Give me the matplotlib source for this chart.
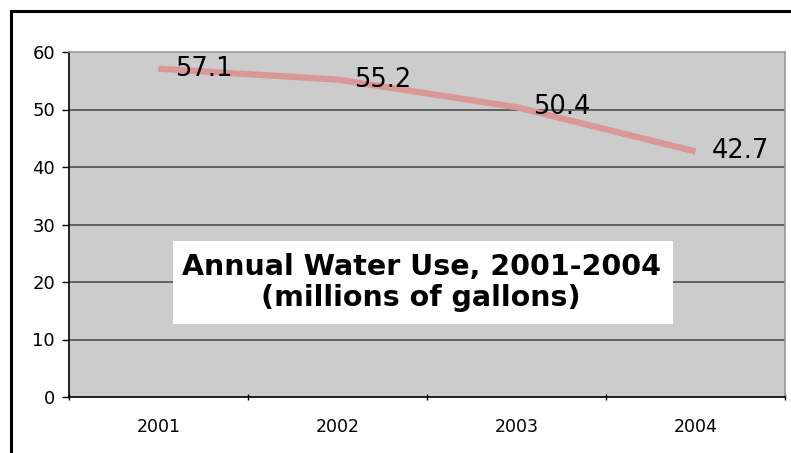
import matplotlib
matplotlib.use('Agg')
import matplotlib.pyplot as plt
from matplotlib.patches import Rectangle

years = ['2001', '2002', '2003', '2004']
water_use = [57.1, 55.2, 50.4, 42.7]
y_ticks = [0, 10, 20, 30, 40, 50, 60]

fig = plt.figure(figsize=(7.91, 4.53), dpi=100)
fig.patch.set_facecolor('white')

# outer chart frame (runs off the right and bottom edge like the original)
fig.patches.append(Rectangle((10.5 / 791, -0.1), 1.2, 1 - 10.5 / 453 + 0.1,
                             transform=fig.transFigure, fill=False,
                             edgecolor='black', linewidth=2.2))

ax = fig.add_axes([69 / 791, 56 / 453, 716 / 791, 345 / 453])
ax.set_facecolor('#cccccc')

x = list(range(len(years)))
ax.plot(x, water_use, color='#d99795', linewidth=4.5, solid_capstyle='butt',
        zorder=3)
for xi, v in zip(x, water_use):
    ax.annotate('%.1f' % v, (xi, v), xytext=(12, 0), textcoords='offset points',
                ha='left', va='center', fontsize=18.5, color='black', zorder=4)

ax.set_xlim(-0.5, len(years) - 0.5)
ax.set_ylim(0, 60)
ax.set_yticks(y_ticks)
ax.set_yticklabels([str(t) for t in y_ticks], fontsize=13)
for t in y_ticks[1:-1]:
    ax.axhline(t, color='#505050', linewidth=1.2, zorder=1)

ax.set_xticks([i - 0.5 for i in range(len(years) + 1)])
ax.set_xticklabels([])
ax.set_xticks(x, minor=True)
ax.set_xticklabels(years, minor=True, fontsize=12.5)
ax.tick_params(axis='x', which='minor', length=0, pad=15)
ax.tick_params(axis='x', which='major', length=5, direction='inout', width=1)
ax.tick_params(axis='y', length=5, direction='out', width=1, pad=5)

ax.spines['left'].set_color('black')
ax.spines['bottom'].set_color('black')
ax.spines['top'].set_color('#999999')
ax.spines['right'].set_color('#999999')
for s in ax.spines.values():
    s.set_linewidth(1.2)

# white title box inside the plot area
ax.add_patch(Rectangle((104 / 716, 73 / 345), 500 / 716, 83 / 345,
                       transform=ax.transAxes, facecolor='white',
                       edgecolor='none', zorder=5))
ax.text(352 / 716, 114.5 / 345,
        'Annual Water Use, 2001-2004\n(millions of gallons)',
        transform=ax.transAxes, ha='center', va='center', fontsize=20.5,
        fontweight='bold', linespacing=1.12, zorder=6)

fig.savefig('out.png', dpi=100)
